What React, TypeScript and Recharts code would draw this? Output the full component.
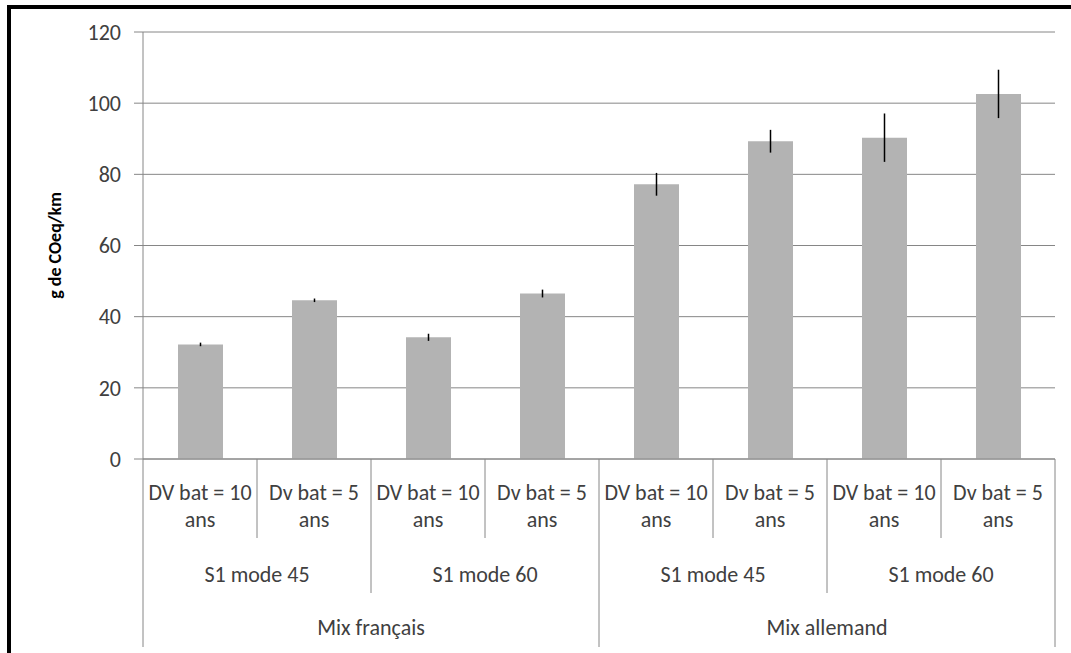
import { BarChart, Bar, XAxis, YAxis, CartesianGrid, ErrorBar, Label } from 'recharts'

const dureeVie = ['DV bat = 10', 'Dv bat = 5', 'DV bat = 10', 'Dv bat = 5', 'DV bat = 10', 'Dv bat = 5', 'DV bat = 10', 'Dv bat = 5']
const scenarios = ['S1 mode 45', 'S1 mode 60', 'S1 mode 45', 'S1 mode 60']
const mixes = ['Mix français', 'Mix allemand']
const emissions = [32.2, 44.6, 34.2, 46.5, 77.2, 89.3, 90.3, 102.6]
const ecarts = [0.5, 0.5, 1.0, 1.1, 3.2, 3.2, 6.8, 6.8]
const yTicks = [0, 20, 40, 60, 80, 100, 120]

const W = 1071
const H = 653
const LEFT = 143
const RIGHT = 16
const BAND = (W - LEFT - RIGHT) / dureeVie.length
const FONT = 'Calibri, Carlito, "Open Sans", sans-serif'
const LINE = '#868686'
const TEXT = '#404040'

const data = dureeVie.map((d, i) => ({
  name: `${d} ans`,
  valeur: emissions[i],
  ecart: ecarts[i],
}))

function CategoryTick(props: any) {
  const { x, y, index } = props
  const lx = x - BAND / 2
  const depth = index % 4 === 0 ? 188 : index % 2 === 0 ? 134 : 79
  const txt = { fontFamily: FONT, fontSize: 22, fill: TEXT, textAnchor: 'middle' as const }
  return (
    <g>
      <line x1={lx} y1={y} x2={lx} y2={y + depth} stroke={LINE} />
      {index === dureeVie.length - 1 && (
        <line x1={x + BAND / 2} y1={y} x2={x + BAND / 2} y2={y + 188} stroke={LINE} />
      )}
      <text x={x} y={y + 41} {...txt}>{dureeVie[index]}</text>
      <text x={x} y={y + 68} {...txt}>ans</text>
      {index % 2 === 0 && (
        <text x={x + BAND / 2} y={y + 123} {...txt}>{scenarios[index / 2]}</text>
      )}
      {index % 4 === 0 && (
        <text x={x + BAND * 1.5} y={y + 176} {...txt}>{mixes[index / 4]}</text>
      )}
    </g>
  )
}

export default function App() {
  return (
    <div style={{ position: 'absolute', left: 0, top: 0, width: W, height: H, background: '#fff', overflow: 'hidden' }}>
      <BarChart width={W} height={H} data={data} margin={{ top: 32, right: RIGHT, bottom: 0, left: 0 }}>
        <CartesianGrid vertical={false} stroke={LINE} />
        <XAxis
          dataKey="name"
          height={194}
          interval={0}
          tickLine={false}
          tickSize={0}
          tickMargin={0}
          axisLine={{ stroke: LINE }}
          tick={<CategoryTick />}
        />
        <YAxis
          width={LEFT}
          domain={[0, 120]}
          ticks={yTicks}
          tickSize={9}
          tickMargin={13}
          axisLine={{ stroke: LINE }}
          tickLine={{ stroke: LINE }}
          tick={{ fontFamily: FONT, fontSize: 22, fill: TEXT }}
        >
          <Label
            value="g de COeq/km"
            angle={-90}
            position="insideLeft"
            offset={55}
            style={{ fontFamily: FONT, fontSize: 18, fontWeight: 700, fill: '#000', textAnchor: 'middle' }}
          />
        </YAxis>
        <Bar dataKey="valeur" fill="#b3b3b3" barSize={45} isAnimationActive={false}>
          <ErrorBar dataKey="ecart" width={0} stroke="#000" strokeWidth={1.5} direction="y" />
        </Bar>
      </BarChart>
      <div
        style={{
          position: 'absolute',
          left: 7,
          top: 5,
          width: W - 7,
          height: H - 5,
          boxSizing: 'border-box',
          borderTop: '4px solid #000',
          borderLeft: '4px solid #000',
          pointerEvents: 'none',
        }}
      />
    </div>
  )
}
